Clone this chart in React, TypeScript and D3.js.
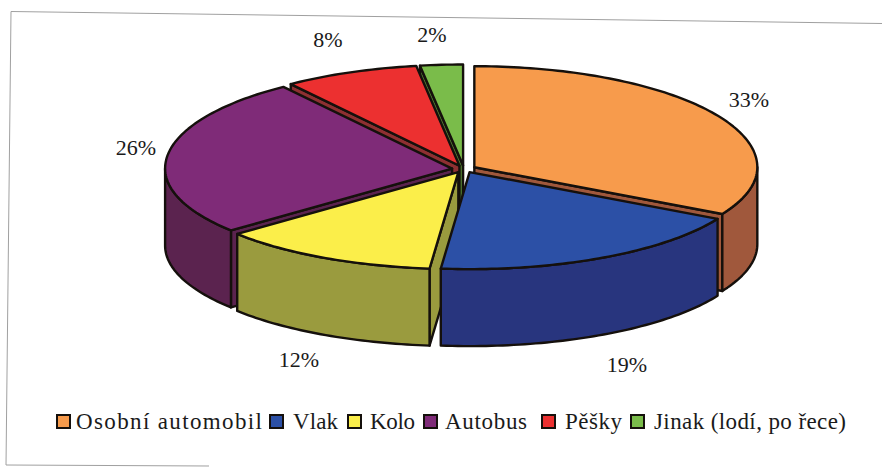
import React from "react";
import * as D3 from "d3";

const categories = ["Osobní automobil", "Vlak", "Kolo", "Autobus", "Pěšky", "Jinak (lodí, po řece)"];
const shares = [33, 18.6, 12.4, 26, 7.6, 2.4];
const topColors = ["#F79B4C", "#2C50A6", "#FBEE4A", "#7F2B78", "#EC3030", "#7ABC4A"];
const sideColors = ["#A0583C", "#28357E", "#9A9B3E", "#5B234F", "#8E3032", "#4F7A30"];

const W = 882, H = 467;
const CX = 464, CY = 169, RX_RIGHT = 283, RX_LEFT = 287, RY_BACK = 101, RY_FRONT = 97, DEPTH = 77, EX = 12, EY = 3.5;
const paintOrder = [5, 4, 0, 3, 2, 1];
const labelPos: [number, number][] = [[749, 107], [627, 372], [299, 367], [136, 155], [328, 47], [432, 42]];
const legendBox = [57, 270, 348, 424, 542, 631];
const legendText: [number, number][] = [[76, 186], [293, 45], [370, 45], [445, 82], [565, 57], [654, 192]];

const line = D3.line<[number, number]>().x(d => d[0]).y(d => d[1]);

function arcPoints(cx: number, cy: number, a0: number, a1: number): [number, number][] {
  const n = Math.max(2, Math.ceil((a1 - a0) / 0.02));
  return D3.range(n + 1).map(i => {
    const a = a0 + ((a1 - a0) * i) / n;
    const s = Math.sin(a), c = Math.cos(a);
    return [cx + (s >= 0 ? RX_RIGHT : RX_LEFT) * s, cy - (c >= 0 ? RY_BACK : RY_FRONT) * c] as [number, number];
  });
}

export default function App() {
  const arcs = D3.pie<number>().sort(null)(shares);
  const stroke = { stroke: "#15100c", strokeWidth: 2.4, strokeLinejoin: "round" as const };
  const font = "'Liberation Serif', serif";
  return (
    <svg width={W} height={H} style={{ position: "absolute", left: 0, top: 0, background: "#fff" }}>
      <path d="M882,23.5L11,11.5L6,465L209,466" stroke="#a0a0a0" strokeWidth={1} fill="none" />
      {paintOrder.map(i => {
        const { startAngle: a0, endAngle: a1 } = arcs[i];
        const mid = (a0 + a1) / 2;
        const cx = CX + EX * Math.sin(mid), cy = CY - EY * Math.cos(mid);
        const top = arcPoints(cx, cy, a0, a1);
        const first = top[0], last = top[top.length - 1];
        const f0 = Math.max(a0, Math.PI / 2), f1 = Math.min(a1, (3 * Math.PI) / 2);
        const rim = f1 > f0 ? arcPoints(cx, cy, f0, f1) : [];
        const rimPoly: [number, number][] = [...rim, ...rim.slice().reverse().map(p => [p[0], p[1] + DEPTH] as [number, number])];
        const cut = (p: [number, number]): [number, number][] => [[cx, cy], p, [p[0], p[1] + DEPTH], [cx, cy + DEPTH]];
        return (
          <g key={categories[i]} {...stroke}>
            {a0 > Math.PI && <path d={line(cut(first)) + "Z"} fill={sideColors[i]} />}
            {a1 < Math.PI && <path d={line(cut(last)) + "Z"} fill={sideColors[i]} />}
            {rim.length > 0 && <path d={line(rimPoly) + "Z"} fill={sideColors[i]} />}
            <path d={line([[cx, cy], ...top]) + "Z"} fill={topColors[i]} />
          </g>
        );
      })}
      {shares.map((v, i) => (
        <text key={i} x={labelPos[i][0]} y={labelPos[i][1]} textAnchor="middle" fontFamily={font} fontSize={22} fill="#1a1a1a">
          {Math.round(v)}%
        </text>
      ))}
      {categories.map((c, i) => (
        <g key={c}>
          <rect x={legendBox[i]} y={415} width={13} height={13} fill={topColors[i]} stroke="#15100c" strokeWidth={2} />
          <text x={legendText[i][0]} y={429} textLength={legendText[i][1]} fontFamily={font} fontSize={23} fill="#1a1a1a">
            {c}
          </text>
        </g>
      ))}
    </svg>
  );
}
